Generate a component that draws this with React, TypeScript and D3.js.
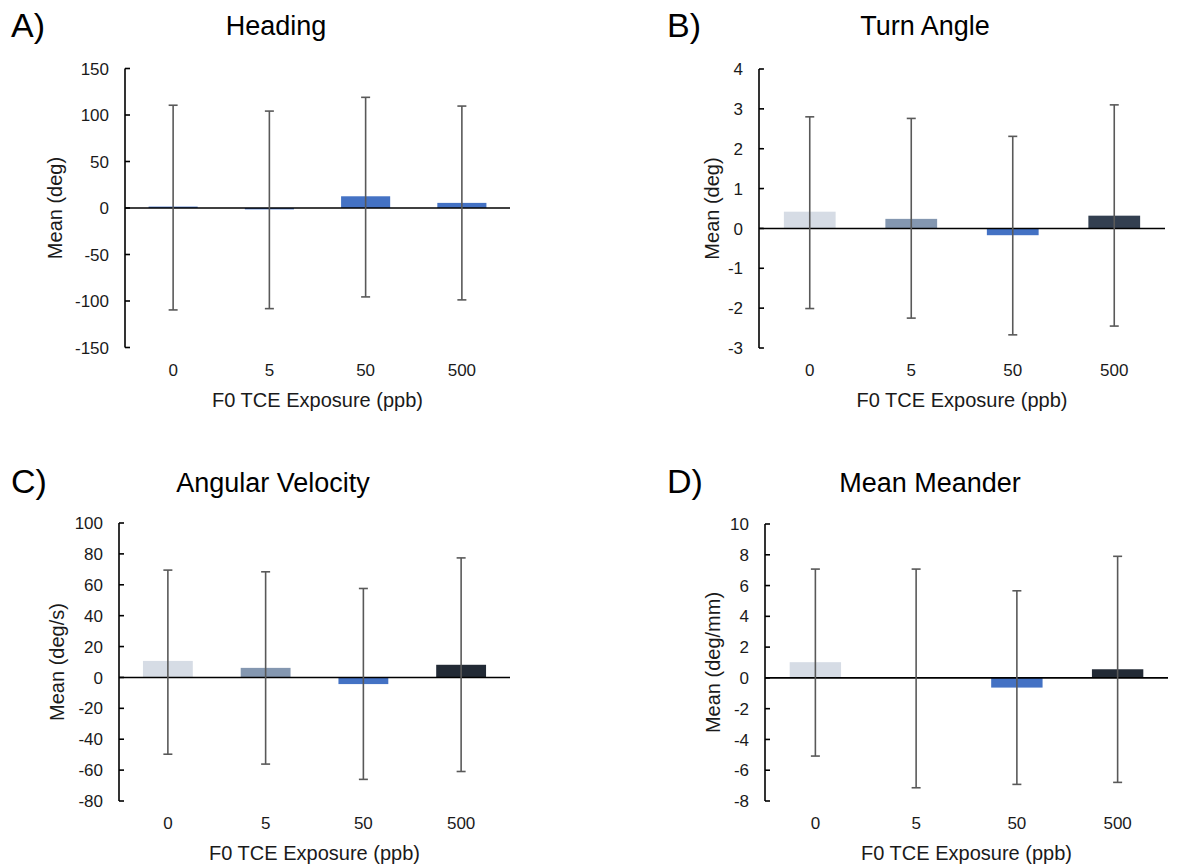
import React from "react";
import * as d3 from "d3";

const categories = ["0", "5", "50", "500"];

const headingMean = [1.5, -1.5, 12.6, 5.5];
const headingUpper = [110.5, 104.2, 119, 109.6];
const headingLower = [-109.6, -108.2, -95.6, -98.8];
const headingTicks = [-150, -100, -50, 0, 50, 100, 150];

const turnMean = [0.42, 0.24, -0.17, 0.32];
const turnUpper = [2.8, 2.76, 2.31, 3.1];
const turnLower = [-2.01, -2.25, -2.67, -2.45];
const turnTicks = [-3, -2, -1, 0, 1, 2, 3, 4];

const angVelMean = [10.7, 6.2, -4.3, 8.2];
const angVelUpper = [69.5, 68.4, 57.6, 77.4];
const angVelLower = [-49.7, -56.1, -66, -60.9];
const angVelTicks = [-80, -60, -40, -20, 0, 20, 40, 60, 80, 100];

const meanderMean = [1.02, 0, -0.63, 0.56];
const meanderUpper = [7.07, 7.07, 5.66, 7.9];
const meanderLower = [-5.08, -7.14, -6.92, -6.79];
const meanderTicks = [-8, -6, -4, -2, 0, 2, 4, 6, 8, 10];

const blueColors = ["#4472C4", "#4472C4", "#4472C4", "#4472C4"];
const paletteB = ["#D6DCE5", "#8497B0", "#4472C4", "#333F50"];
const paletteCD = ["#D6DCE5", "#8497B0", "#4472C4", "#222A35"];

const FONT = "'Liberation Sans', Arial, sans-serif";

type Panel = {
  letter: string;
  title: string;
  yLabel: string;
  mean: number[];
  upper: number[];
  lower: number[];
  ticks: number[];
  colors: string[];
  x0: number;
  x1: number;
  yTop: number;
  yBot: number;
  titleX: number;
  titleY: number;
  letterX: number;
  letterY: number;
  yLabelX: number;
};

const panels: Panel[] = [
  {
    letter: "A)", title: "Heading", yLabel: "Mean (deg)",
    mean: headingMean, upper: headingUpper, lower: headingLower, ticks: headingTicks, colors: blueColors,
    x0: 125, x1: 510, yTop: 68.5, yBot: 347.5, titleX: 276, titleY: 35, letterX: 11, letterY: 37, yLabelX: 62,
  },
  {
    letter: "B)", title: "Turn Angle", yLabel: "Mean (deg)",
    mean: turnMean, upper: turnUpper, lower: turnLower, ticks: turnTicks, colors: paletteB,
    x0: 759, x1: 1165, yTop: 69, yBot: 348, titleX: 925, titleY: 35, letterX: 667, letterY: 37, yLabelX: 719,
  },
  {
    letter: "C)", title: "Angular Velocity", yLabel: "Mean (deg/s)",
    mean: angVelMean, upper: angVelUpper, lower: angVelLower, ticks: angVelTicks, colors: paletteCD,
    x0: 119, x1: 510, yTop: 523, yBot: 801, titleX: 273, titleY: 492, letterX: 11, letterY: 493, yLabelX: 64,
  },
  {
    letter: "D)", title: "Mean Meander", yLabel: "Mean (deg/mm)",
    mean: meanderMean, upper: meanderUpper, lower: meanderLower, ticks: meanderTicks, colors: paletteCD,
    x0: 765, x1: 1168, yTop: 524, yBot: 801, titleX: 930, titleY: 492, letterX: 667, letterY: 493, yLabelX: 720,
  },
];

function PanelChart({ p }: { p: Panel }) {
  const x = d3.scaleBand<string>().domain(categories).range([p.x0, p.x1]).paddingInner(0.49).paddingOuter(0.245);
  const ext = d3.extent(p.ticks) as [number, number];
  const y = d3.scaleLinear().domain(ext).range([p.yBot, p.yTop]);
  const y0 = y(0);
  const capHalf = 4.5;
  return (
    <g>
      <text x={p.letterX} y={p.letterY} fontSize={34} fontFamily={FONT} fill="#000">{p.letter}</text>
      <text x={p.titleX} y={p.titleY} fontSize={27} fontFamily={FONT} fill="#000" textAnchor="middle">{p.title}</text>
      {categories.map((c, i) => {
        const v = p.mean[i];
        const top = Math.min(y(v), y0);
        const h = Math.abs(y(v) - y0);
        return <rect key={"b" + c} x={x(c)} y={top} width={x.bandwidth()} height={h} fill={p.colors[i]} />;
      })}
      <line x1={p.x0} x2={p.x1} y1={y0} y2={y0} stroke="#000" strokeWidth={1.6} />
      {categories.map((c, i) => {
        const cx = (x(c) as number) + x.bandwidth() / 2;
        const yu = y(p.upper[i]);
        const yl = y(p.lower[i]);
        return (
          <g key={"e" + c} stroke="#595959" strokeWidth={1.6}>
            <line x1={cx} x2={cx} y1={yu} y2={yl} />
            <line x1={cx - capHalf} x2={cx + capHalf} y1={yu} y2={yu} />
            <line x1={cx - capHalf} x2={cx + capHalf} y1={yl} y2={yl} />
          </g>
        );
      })}
      <line x1={p.x0} x2={p.x0} y1={p.yTop} y2={p.yBot} stroke="#000" strokeWidth={1.6} />
      {p.ticks.map((t) => (
        <g key={"t" + t}>
          <line x1={p.x0} x2={p.x0 + 5} y1={y(t)} y2={y(t)} stroke="#000" strokeWidth={1.6} />
          <text x={p.x0 - 16} y={y(t)} dy="0.36em" fontSize={17} fontFamily={FONT} fill="#1a1a1a" textAnchor="end">{t}</text>
        </g>
      ))}
      {categories.map((c) => (
        <text key={"x" + c} x={(x(c) as number) + x.bandwidth() / 2} y={p.yBot + 28} fontSize={17} fontFamily={FONT} fill="#1a1a1a" textAnchor="middle">{c}</text>
      ))}
      <text x={(p.x0 + p.x1) / 2} y={p.yBot + 59} fontSize={20} fontFamily={FONT} fill="#1a1a1a" textAnchor="middle">F0 TCE Exposure (ppb)</text>
      <text transform={`translate(${p.yLabelX},${(p.yTop + p.yBot) / 2}) rotate(-90)`} fontSize={20} fontFamily={FONT} fill="#1a1a1a" textAnchor="middle">{p.yLabel}</text>
    </g>
  );
}

export default function App() {
  return (
    <svg width={1177} height={867} style={{ position: "absolute", left: 0, top: 0, background: "#fff" }}>
      <rect width={1177} height={867} fill="#fff" />
      {panels.map((p) => <PanelChart key={p.letter} p={p} />)}
    </svg>
  );
}
